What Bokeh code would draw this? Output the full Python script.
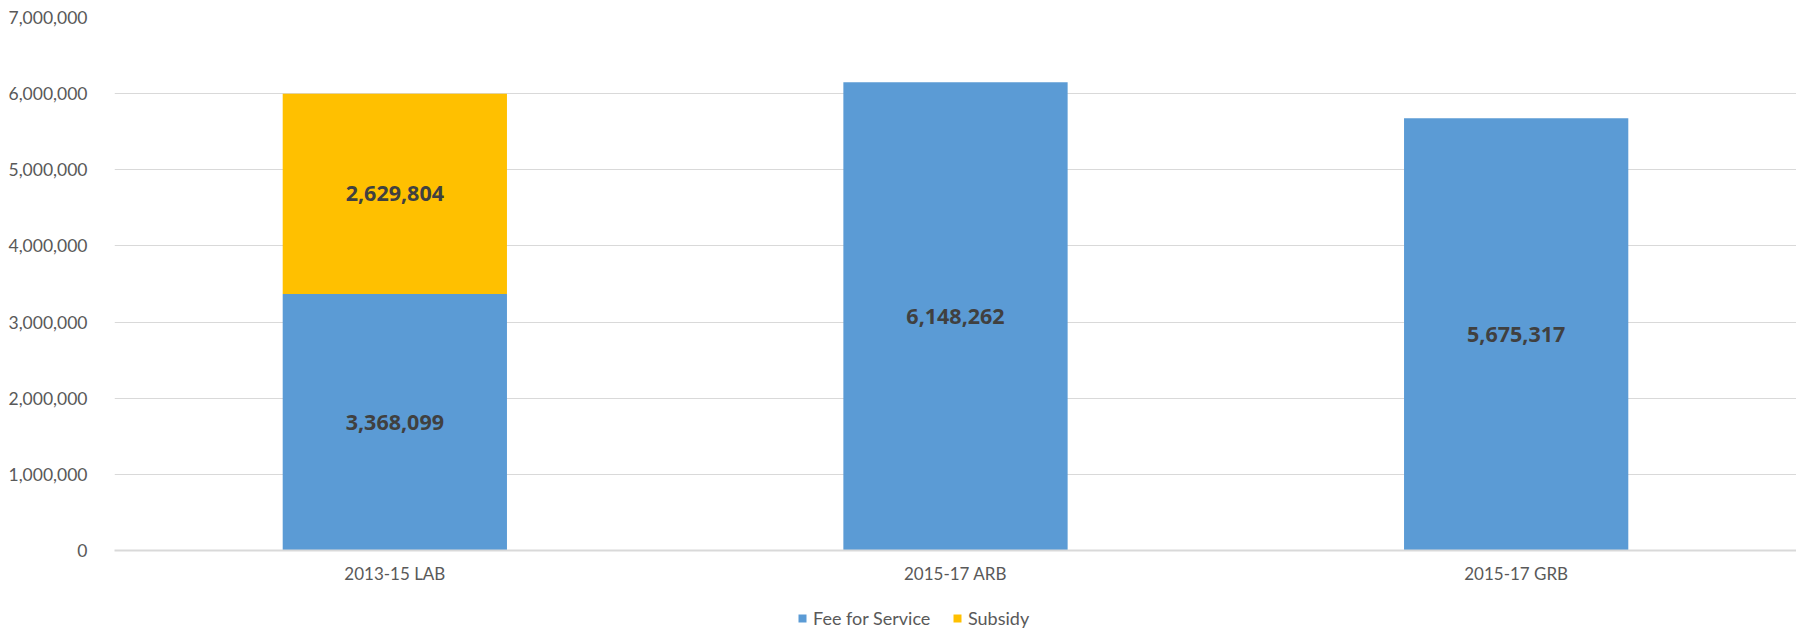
from bokeh.plotting import figure
from bokeh.layouts import column
from bokeh.core.properties import value
from bokeh.models import (ColumnDataSource, FactorRange, FixedTicker, NumeralTickFormatter,
                          LabelSet, Legend, LegendItem, Range1d)
from bokeh.embed import file_html
from bokeh.resources import INLINE

categories = ["2013-15 LAB", "2015-17 ARB", "2015-17 GRB"]
fee_for_service = [3368099, 6148262, 5675317]
subsidy = [2629804, 0, 0]
series_names = ["Fee for Service", "Subsidy"]
series_colors = ["#5B9BD5", "#FFC000"]
y_ticks = [0, 1000000, 2000000, 3000000, 4000000, 5000000, 6000000, 7000000]

FONT = "Lato"
BOLD_FONT = "Noto Sans"

src = ColumnDataSource(dict(cat=categories, fee=fee_for_service, sub=subsidy))

p = figure(x_range=FactorRange(*categories, range_padding=0), y_range=(0, 7000000),
           width=1796, height=586, output_backend="svg", toolbar_location=None,
           min_border_left=114, min_border_right=0, min_border_top=17, min_border_bottom=36)
p.outline_line_color = None

rs = p.vbar_stack(["fee", "sub"], x="cat", width=0.4, source=src,
                  fill_color=series_colors, line_color=None)

# data labels centred in each segment
lx, ly, lt = [], [], []
for c, f, s in zip(categories, fee_for_service, subsidy):
    lx.append(c); ly.append(f / 2); lt.append(f"{f:,}")
    if s > 0:
        lx.append(c); ly.append(f + s / 2); lt.append(f"{s:,}")
lsrc = ColumnDataSource(dict(x=lx, y=ly, t=lt))
labels = LabelSet(x="x", y="y", text="t", source=lsrc, text_align="center",
                  text_baseline="middle", text_font=value(BOLD_FONT), text_font_style="bold",
                  text_font_size="21.5px", text_color="#404040")
p.add_layout(labels)

# axes
p.yaxis.ticker = FixedTicker(ticks=y_ticks)
p.yaxis.formatter = NumeralTickFormatter(format="0,0")
p.yaxis.axis_line_color = None
p.yaxis.major_tick_line_color = None
p.yaxis.minor_tick_line_color = None
p.yaxis.major_label_standoff = 21
p.yaxis.major_label_text_font = FONT
p.yaxis.major_label_text_font_size = "17.5px"
p.yaxis.major_label_text_color = "#595959"

p.xaxis.axis_line_color = "#D9D9D9"
p.xaxis.axis_line_width = 2
p.xaxis.major_tick_line_color = None
p.xaxis.minor_tick_line_color = None
p.xaxis.major_label_standoff = 6
p.xaxis.major_label_text_font = FONT
p.xaxis.major_label_text_font_size = "17px"
p.xaxis.major_label_text_color = "#595959"

p.xgrid.grid_line_color = None
p.ygrid.grid_line_color = "#D9D9D9"
p.ygrid.grid_line_width = 1
p.ygrid.ticker = FixedTicker(ticks=y_ticks)

# legend strip below the chart
lg = figure(width=1796, height=46, output_backend="svg", toolbar_location=None,
            x_range=Range1d(0, 1), y_range=Range1d(0, 1),
            min_border_left=0, min_border_right=0, min_border_top=0, min_border_bottom=0)
lg.outline_line_color = None
lg.axis.visible = False
lg.grid.visible = False
swatches = [lg.vbar(x=[5], top=[1], width=0.1, fill_color=c, line_color=None) for c in series_colors]
legend = Legend(items=[LegendItem(label=n, renderers=[r]) for n, r in zip(series_names, swatches)],
                orientation="horizontal", location=(683, 3),
                glyph_width=10, glyph_height=10, label_standoff=6, spacing=0,
                label_width=139,
                padding=0, margin=0, border_line_color=None, background_fill_alpha=0,
                label_text_font=FONT, label_text_font_size="18px",
                label_text_color="#595959")
lg.add_layout(legend, "center")

layout = column(p, lg, spacing=0)
open("out.html", "w").write(file_html(layout, INLINE))
